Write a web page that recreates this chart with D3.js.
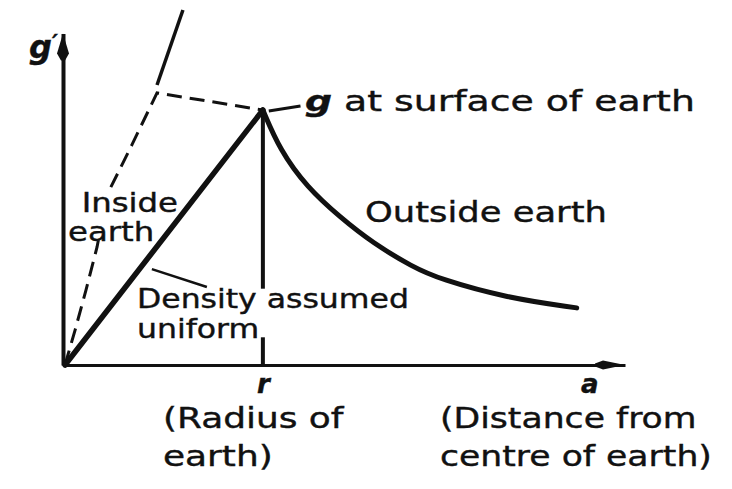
<!DOCTYPE html>
<html>
<head>
<meta charset="utf-8">
<script src="https://cdn.jsdelivr.net/npm/d3@7"></script>
<style>
  html, body { margin: 0; padding: 0; background: #fff; }
  svg { display: block; }
  text { font-family: "DejaVu Sans", "Liberation Sans", sans-serif; fill: #111; stroke: #111; stroke-width: 0.4; }
  .sym { font-weight: bold; font-style: italic; }
</style>
</head>
<body>
<svg id="chart" width="732" height="489"></svg>
<script>
// Distance from centre (in earth radii) and gravity (as a fraction of surface g)
const uniformA = [0, 1];
const uniformG = [0, 1];

const outsideA = [1, 1.086, 1.222, 1.389, 1.556, 1.758, 1.894, 2.232, 2.586];
const outsideG = [1, 0.843, 0.698, 0.580, 0.478, 0.384, 0.337, 0.263, 0.224];

const realA = [0, 0.051, 0.106, 0.162, 0.212, 0.338, 0.465, 1];
const realG = [0, 0.137, 0.294, 0.463, 0.667, 0.863, 1.067, 1];

const steepA = [0.465, 0.596];
const steepG = [1.098, 1.392];

const tickValues = [1, 2.65];
const tickLabels = ["r", "a"];

const svg = d3.select("#chart");
const x = d3.scaleLinear().domain([0, 2.83]).range([65, 625]);
const y = d3.scaleLinear().domain([0, 1.3]).range([365, 33.5]);

const zip = (as, gs) => as.map((a, i) => [a, gs[i]]);
const line = d3.line().x(d => x(d[0])).y(d => y(d[1]));
const smooth = d3.line().x(d => x(d[0])).y(d => y(d[1])).curve(d3.curveBasis);

// axes
const xAxis = d3.axisBottom(x).tickValues(tickValues).tickFormat((d, i) => tickLabels[i])
  .tickSize(0).tickSizeOuter(0).tickPadding(6);
const gx = svg.append("g").attr("transform", `translate(0,${y(0)})`).call(xAxis);
gx.select(".domain").attr("stroke", "#111").attr("stroke-width", 3);
gx.selectAll(".tick text").attr("class", "sym").attr("font-size", 26)
  .attr("font-family", "DejaVu Sans").attr("fill", "#111").attr("dy", "0.85em");

const yAxis = d3.axisLeft(y).tickValues([]).tickSizeOuter(0);
const gy = svg.append("g").attr("transform", `translate(${x(0) - 2},0)`).call(yAxis);
gy.select(".domain").attr("stroke", "#111").attr("stroke-width", 4);

// arrow heads
const xr1 = x.range()[1];
svg.append("path")
  .attr("d", `M${xr1},${y(0)} L${xr1 - 22},${y(0) - 4.5} L${xr1 - 30},${y(0) - 1.5} L${xr1 - 30},${y(0) + 1.5} L${xr1 - 22},${y(0) + 4.5} Z`)
  .attr("fill", "#111");
const yx = x(0) - 2, yt = y.range()[1];
svg.append("path")
  .attr("d", `M${yx},${yt} L${yx + 6},${yt + 20} L${yx + 2},${yt + 27} L${yx - 2},${yt + 27} L${yx - 6},${yt + 20} Z`)
  .attr("fill", "#111");

// vertical line at the radius
svg.append("line")
  .attr("x1", x(1)).attr("x2", x(1)).attr("y1", y(1)).attr("y2", y(0))
  .attr("stroke", "#111").attr("stroke-width", 4);

// realistic earth (dashed)
svg.append("path").datum(zip(realA, realG)).attr("d", line)
  .attr("fill", "none").attr("stroke", "#111").attr("stroke-width", 3)
  .attr("stroke-dasharray", "15,8");
svg.append("path").datum(zip(steepA, steepG)).attr("d", line)
  .attr("fill", "none").attr("stroke", "#111").attr("stroke-width", 3.5);

// multi-line label in a wide face: one text element, stretched horizontally
// to the given width; optional white backing breaks the lines behind it
function label(lines, px, py, lineH, width, size, backed, offsets) {
  const outer = svg.append("g");
  const bg = backed ? outer.append("rect").attr("fill", "#fff") : null;
  const inner = outer.append("g");
  const t = inner.append("text").attr("font-size", size);
  lines.forEach((txt, i) => {
    t.append("tspan").attr("x", offsets ? offsets[i] : 0).attr("y", i * lineH).text(txt);
  });
  const k = width / t.node().getBBox().width;
  inner.attr("transform", `translate(${px},${py}) scale(${k},1)`);
  if (bg) {
    const bb = inner.node().getBBox();
    bg.attr("x", px + bb.x * k + 1).attr("y", py + bb.y + 5)
      .attr("width", bb.width * k).attr("height", bb.height - 12);
  }
  return outer;
}

label(["Inside", "earth"], 68, 212, 29, 110, 26, true, [11, 0]);

// uniform density inside, inverse square outside
svg.append("path").datum(zip(uniformA, uniformG)).attr("d", line)
  .attr("fill", "none").attr("stroke", "#111").attr("stroke-width", 5.5).attr("stroke-linecap", "round");
svg.append("path").datum(zip(outsideA, outsideG)).attr("d", smooth)
  .attr("fill", "none").attr("stroke", "#111").attr("stroke-width", 5).attr("stroke-linecap", "round");

label(["Density assumed", "uniform"], 137, 308, 30, 272, 26, true);

// leader lines
svg.append("line")
  .attr("x1", x(0.439)).attr("y1", y(0.376)).attr("x2", x(0.717)).attr("y2", y(0.306))
  .attr("stroke", "#111").attr("stroke-width", 2.5);
svg.append("line")
  .attr("x1", x(1.03)).attr("y1", y(0.996)).attr("x2", x(1.19)).attr("y2", y(1.016))
  .attr("stroke", "#111").attr("stroke-width", 3);

const gp = svg.append("text").attr("x", 29).attr("y", 58).attr("font-size", 32).attr("class", "sym");
gp.append("tspan").text("g");
gp.append("tspan").attr("font-size", 22).attr("dy", -8).text("\u2032");

// "g at surface of earth" with an italic symbol
const gs = svg.append("g");
const gsText = gs.append("text").attr("font-size", 28);
gsText.append("tspan").attr("class", "sym").text("g");
gsText.append("tspan").text(" at surface of earth");
const gsK = 390 / gsText.node().getBBox().width;
gs.attr("transform", `translate(305,111) scale(${gsK},1)`);

label(["Outside earth"], 365, 222, 28, 242, 28, false);
label(["(Radius of", "earth)"], 163, 428, 38, 182, 28, false);
label(["(Distance from", "centre of earth)"], 440, 428, 38, 272, 28, false);
</script>
</body>
</html>
